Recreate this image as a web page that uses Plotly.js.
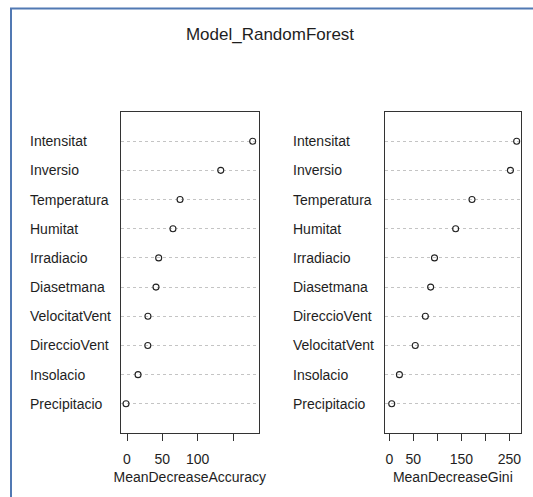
<!DOCTYPE html>
<html>
<head>
<meta charset="utf-8">
<script src="https://cdn.plot.ly/plotly-3.0.1.min.js"></script>
<style>
  html, body { margin: 0; padding: 0; background: #fff; }
  #chart { width: 533px; height: 497px; }
</style>
</head>
<body>
<div id="chart"></div>
<script>
// Variable importance of the random forest model (top to bottom)
const accVars = ['Intensitat', 'Inversio', 'Temperatura', 'Humitat', 'Irradiacio',
                 'Diasetmana', 'VelocitatVent', 'DireccioVent', 'Insolacio', 'Precipitacio'];
const accValues = [177.8, 132.6, 75, 65, 44.8, 41, 29.6, 29.4, 15.6, -1.4];

const giniVars = ['Intensitat', 'Inversio', 'Temperatura', 'Humitat', 'Irradiacio',
                  'Diasetmana', 'DireccioVent', 'VelocitatVent', 'Insolacio', 'Precipitacio'];
const giniValues = [265, 252, 172, 138, 94, 86, 75, 54, 21, 5];

const accTicks = [0, 50, 100, 150];
const accTickText = ['0', '50', '100', ''];
const giniTicks = [0, 50, 100, 150, 200, 250];
const giniTickText = ['0', '50', '', '150', '', '250'];

const W = 533, H = 497;
const px = v => v / W;
const py = v => 1 - v / H;

const FONT = 'Liberation Sans, Arial, sans-serif';
const INK = '#1e1e1e';

// rank positions: first entry at the top
const n = accVars.length;
const rows = accVars.map((_, i) => n - i);

const traces = [
  {
    x: accValues, y: rows, type: 'scatter', mode: 'markers',
    xaxis: 'x', yaxis: 'y', hoverinfo: 'x',
    marker: { symbol: 'circle-open', size: 6, color: '#222', line: { width: 1.1 } }
  },
  {
    x: giniValues, y: rows, type: 'scatter', mode: 'markers',
    xaxis: 'x2', yaxis: 'y2', hoverinfo: 'x',
    marker: { symbol: 'circle-open', size: 6, color: '#222', line: { width: 1.1 } }
  }
];

function xAxis(domain, range, ticks, text, title) {
  return {
    domain: domain, range: range, showgrid: false, zeroline: false,
    showline: true, mirror: true, linecolor: '#333', linewidth: 1,
    ticks: 'outside', ticklen: 7, tickcolor: '#333', tickwidth: 1,
    ticklabelstandoff: 6,
    tickvals: ticks, ticktext: text,
    tickfont: { family: FONT, size: 14, color: INK },
    title: { text: title, font: { family: FONT, size: 14, color: INK }, standoff: 6 },
    automargin: false, fixedrange: true
  };
}
function yAxis(domain, anchor) {
  return {
    domain: domain, range: [0, n + 1], anchor: anchor,
    showline: true, mirror: true, linecolor: '#333', linewidth: 1,
    zeroline: false, ticks: '', showticklabels: false,
    tickvals: rows, showgrid: true, gridcolor: '#c4c4c4', griddash: 'dot', gridwidth: 1,
    automargin: false, fixedrange: true
  };
}

const yDom = [py(433), py(112)];

const annotations = [];
accVars.forEach((name, i) => annotations.push({
  text: name, xref: 'paper', yref: 'y', x: px(28), y: rows[i],
  xanchor: 'left', yanchor: 'middle', showarrow: false,
  font: { family: FONT, size: 14, color: INK }
}));
giniVars.forEach((name, i) => annotations.push({
  text: name, xref: 'paper', yref: 'y2', x: px(291), y: rows[i],
  xanchor: 'left', yanchor: 'middle', showarrow: false,
  font: { family: FONT, size: 14, color: INK }
}));

const layout = {
  width: W, height: H,
  margin: { l: 0, r: 0, t: 0, b: 0 },
  paper_bgcolor: '#fff', plot_bgcolor: '#fff',
  showlegend: false,
  title: {
    text: 'Model_RandomForest', x: px(270), xanchor: 'center',
    y: py(34), yanchor: 'middle', yref: 'paper',
    font: { family: FONT, size: 17, color: INK }
  },
  xaxis: xAxis([px(121), px(258.5)], [-8.5, 186], accTicks, accTickText, 'MeanDecreaseAccuracy'),
  yaxis: yAxis(yDom, 'x'),
  xaxis2: xAxis([px(384.7), px(521)], [-9.6, 274], giniTicks, giniTickText, 'MeanDecreaseGini'),
  yaxis2: yAxis(yDom, 'x2'),
  annotations: annotations,
  shapes: [
    // window frame on the left and top
    { type: 'line', xref: 'paper', yref: 'paper', x0: px(11), x1: px(11), y0: 0, y1: py(8.5),
      line: { color: '#5179b3', width: 2 } },
    { type: 'line', xref: 'paper', yref: 'paper', x0: px(10), x1: 1, y0: py(8.5), y1: py(8.5),
      line: { color: '#5179b3', width: 2 } }
  ]
};

Plotly.newPlot('chart', traces, layout, { displayModeBar: false, staticPlot: true });
</script>
</body>
</html>
